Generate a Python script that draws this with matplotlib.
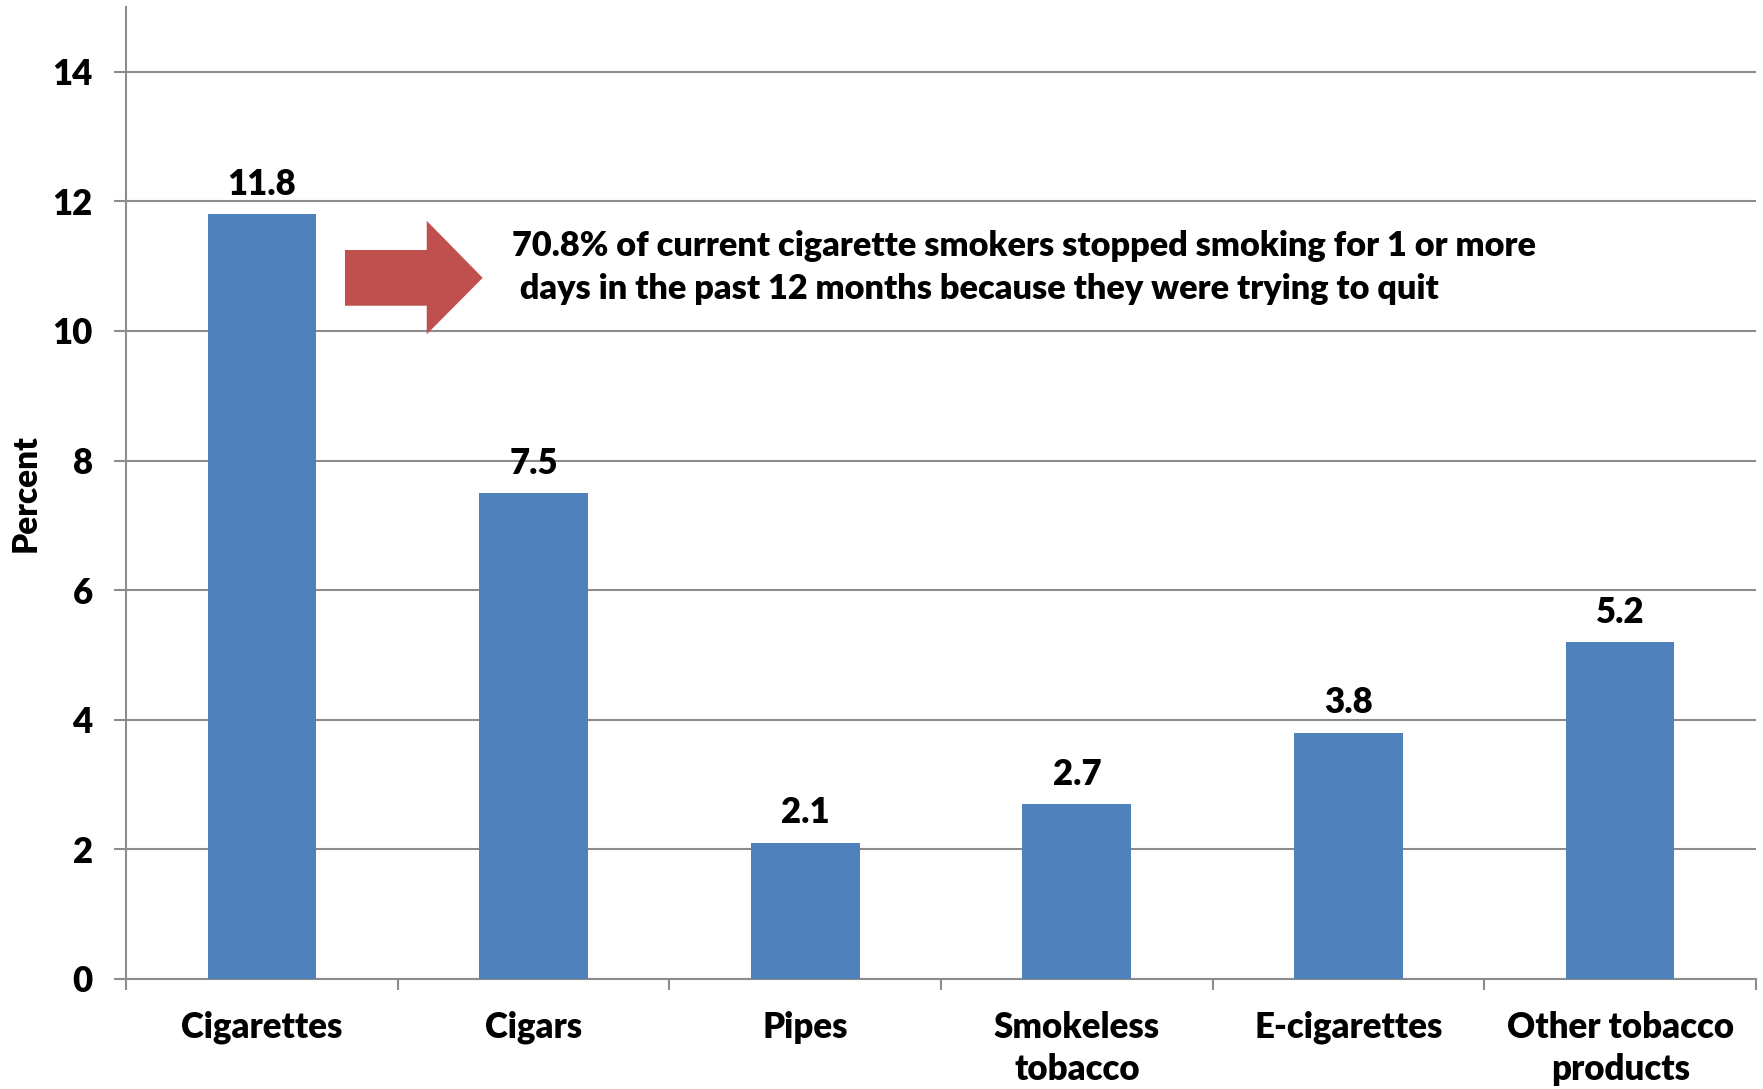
import matplotlib
matplotlib.use("Agg")
import matplotlib.pyplot as plt
from matplotlib.patches import Polygon
import numpy as np

categories = ["Cigarettes", "Cigars", "Pipes", "Smokeless\ntobacco", "E-cigarettes", "Other tobacco\nproducts"]
values = [11.8, 7.5, 2.1, 2.7, 3.8, 5.2]
yticks = [0, 2, 4, 6, 8, 10, 12, 14]
note = "70.8% of current cigarette smokers stopped smoking for 1 or more\n days in the past 12 months because they were trying to quit"

FONT = "Lato"
WT = "heavy"
plt.rcParams["font.family"] = FONT
plt.rcParams["font.weight"] = WT

W, H = 1763, 1089
fig = plt.figure(figsize=(W / 100, H / 100), dpi=100)
ax = fig.add_axes([126 / W, 1 - 979 / H, (1756 - 126) / W, (979 - 7) / H])

x = np.arange(len(categories))
ax.bar(x, values, width=0.40, color="#4F81BD", zorder=3)
ax.set_xlim(-0.5, len(categories) - 0.5)
ax.set_ylim(0, 15)

grid_c = "#8C8C8C"
ax.set_yticks(yticks)
ax.set_yticklabels([str(v) for v in yticks], fontsize=25, fontweight=WT)
ax.yaxis.grid(True, color=grid_c, linewidth=1.5, zorder=0)
ax.tick_params(axis="y", length=9, width=1.5, color=grid_c, pad=15)

ax.set_xticks(x)
ax.set_xticklabels(categories, fontsize=25, fontweight=WT, linespacing=1.35)
ax.set_xticks(np.arange(len(categories) + 1) - 0.5, minor=True)
ax.tick_params(axis="x", which="major", length=0, pad=23)
ax.tick_params(axis="x", which="minor", length=8, width=1.5, color=grid_c)

for s in ["top", "right"]:
    ax.spines[s].set_visible(False)
for s in ["left", "bottom"]:
    ax.spines[s].set_color(grid_c)
    ax.spines[s].set_linewidth(1.5)

ax.set_ylabel("Percent", fontsize=24, fontweight=WT)
ax.yaxis.set_label_coords(-0.052, 0.5)

for xi, v in zip(x, values):
    ax.annotate(f"{v}", (xi, v), xytext=(0, 14), textcoords="offset points",
                ha="center", va="baseline", fontsize=25, fontweight=WT, zorder=4)

# red arrow annotation
arrow = Polygon([[0.306, 11.25], [0.607, 11.25], [0.607, 11.70], [0.813, 10.82],
                 [0.607, 9.95], [0.607, 10.39], [0.306, 10.39]],
                closed=True, facecolor="#C0504D", edgecolor="none", zorder=4)
ax.add_patch(arrow)
ax.text(0.92, 10.98, note, fontsize=24.7, fontweight=WT, ha="left", va="center",
        linespacing=1.42, zorder=4)

fig.savefig("out.png", dpi=100)
